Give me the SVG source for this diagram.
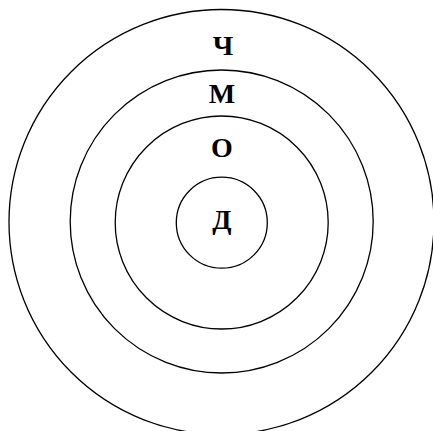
<svg xmlns="http://www.w3.org/2000/svg" width="433" height="431" viewBox="0 0 433 431">
<style>
.c{fill:none;stroke:#000;stroke-width:1.3}
.t{font-family:"Liberation Serif","Times New Roman",serif;font-weight:bold;font-size:28px;text-anchor:middle;fill:#000}
</style>
<rect width="433" height="431" fill="#fff"/>
<g id="circle-ch"><circle class="c" cx="221.5" cy="222" r="212.5"/><text class="t" x="223" y="55">Ч</text></g>
<g id="circle-m"><circle class="c" cx="221.7" cy="221.5" r="151.5"/><text class="t" x="222" y="103">М</text></g>
<g id="circle-o"><circle class="c" cx="221.7" cy="222.5" r="106.5"/><text class="t" x="222" y="156.5">О</text></g>
<g id="circle-d"><circle class="c" cx="221.8" cy="222.7" r="45.5"/><text class="t" x="222" y="229">Д</text></g>
<g id="connectors"/>
</svg>
